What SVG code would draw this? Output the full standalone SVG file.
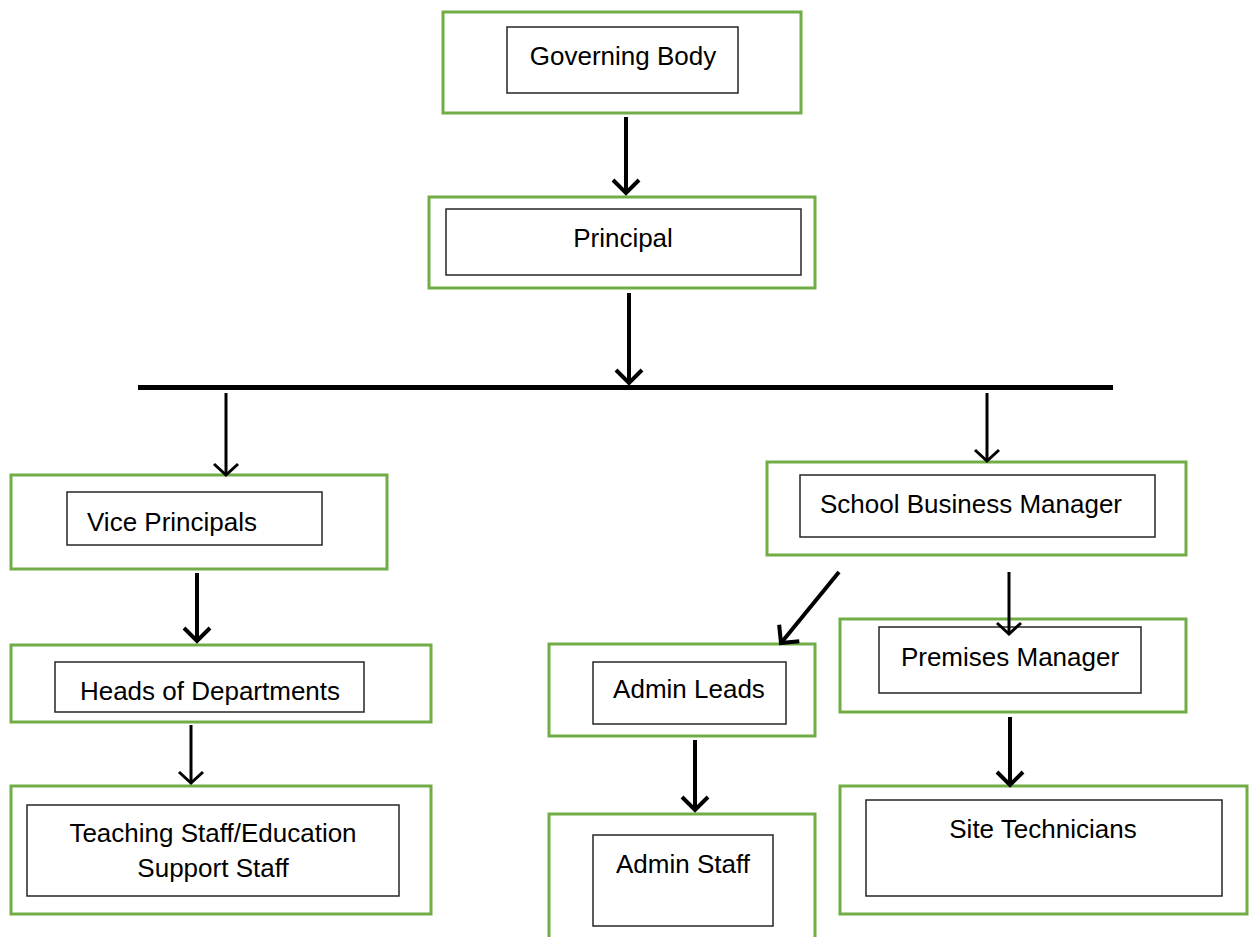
<svg xmlns="http://www.w3.org/2000/svg" width="1249" height="937" viewBox="0 0 1249 937">
<style>
.outer{fill:none;stroke:#70AD47;stroke-width:3}
.inner{fill:#fff;stroke:#262626;stroke-width:1.5}
.t{font-family:"Liberation Sans",Arial,sans-serif;font-size:26px;fill:#000;text-anchor:middle}
.c4{fill:none;stroke:#000;stroke-width:4}
.c3{fill:none;stroke:#000;stroke-width:3}
</style>
<defs>
<marker id="a4" markerUnits="userSpaceOnUse" viewBox="-20 -20 30 40" refX="0" refY="0" markerWidth="30" markerHeight="40" orient="auto" overflow="visible">
<path d="M-13,-13 L0,0 L-13,13" fill="none" stroke="#000" stroke-width="4"/>
</marker>
<marker id="a3" markerUnits="userSpaceOnUse" viewBox="-20 -20 30 40" refX="0" refY="0" markerWidth="30" markerHeight="40" orient="auto" overflow="visible">
<path d="M-11,-12 L0,0 L-11,12" fill="none" stroke="#000" stroke-width="3"/>
</marker>
</defs>
<rect width="1249" height="937" fill="#fff"/>
<g id="governing-body">
<rect class="outer" x="443" y="12" width="358" height="101"/>
<rect class="inner" x="507" y="27" width="231" height="66"/>
<text class="t" x="623" y="65">Governing Body</text>
</g>
<g id="principal">
<rect class="outer" x="429" y="197" width="386" height="91"/>
<rect class="inner" x="446" y="209" width="355" height="66"/>
<text class="t" x="623" y="247">Principal</text>
</g>
<g id="vice-principals">
<rect class="outer" x="11" y="475" width="376" height="94"/>
<rect class="inner" x="67" y="492" width="255" height="53"/>
<text class="t" x="87" y="531" style="text-anchor:start">Vice Principals</text>
</g>
<g id="heads-of-departments">
<rect class="outer" x="11" y="645" width="420" height="77"/>
<rect class="inner" x="55" y="662" width="309" height="50"/>
<text class="t" x="210" y="700">Heads of Departments</text>
</g>
<g id="teaching-staff">
<rect class="outer" x="11" y="786" width="420" height="128"/>
<rect class="inner" x="27" y="805" width="372" height="91"/>
<text class="t" x="213" y="842">Teaching Staff/Education</text>
<text class="t" x="213" y="877">Support Staff</text>
</g>
<g id="school-business-manager">
<rect class="outer" x="767" y="462" width="419" height="93"/>
<rect class="inner" x="800" y="475" width="355" height="62"/>
<text class="t" x="971" y="513">School Business Manager</text>
</g>
<g id="admin-leads">
<rect class="outer" x="549" y="644" width="266" height="92"/>
<rect class="inner" x="593" y="662" width="193" height="62"/>
<text class="t" x="689" y="698">Admin Leads</text>
</g>
<g id="premises-manager">
<rect class="outer" x="840" y="619" width="346" height="93"/>
<rect class="inner" x="879" y="627" width="262" height="66"/>
<text class="t" x="1010" y="666">Premises Manager</text>
</g>
<g id="admin-staff">
<rect class="outer" x="549" y="814" width="266" height="130"/>
<rect class="inner" x="593" y="835" width="180" height="91"/>
<text class="t" x="683" y="873">Admin Staff</text>
</g>
<g id="site-technicians">
<rect class="outer" x="840" y="786" width="407" height="128"/>
<rect class="inner" x="866" y="800" width="356" height="96"/>
<text class="t" x="1043" y="838">Site Technicians</text>
</g>
<g id="connectors">
<line x1="138" y1="387.5" x2="1113" y2="387.5" stroke="#000" stroke-width="5"/>
<line class="c4" x1="626" y1="117" x2="626" y2="193" marker-end="url(#a4)"/>
<line class="c4" x1="629" y1="293" x2="629" y2="383" marker-end="url(#a4)"/>
<line class="c3" x1="226" y1="393" x2="226" y2="475" marker-end="url(#a3)"/>
<line class="c4" x1="197" y1="573" x2="197" y2="641" marker-end="url(#a4)"/>
<line class="c3" x1="191" y1="725" x2="191" y2="783" marker-end="url(#a3)"/>
<line class="c3" x1="987" y1="393" x2="987" y2="461" marker-end="url(#a3)"/>
<line class="c4" x1="839" y1="572" x2="781" y2="643" marker-end="url(#a4)"/>
<line class="c3" x1="1009" y1="572" x2="1009" y2="634" marker-end="url(#a3)"/>
<line class="c4" x1="695" y1="740" x2="695" y2="810" marker-end="url(#a4)"/>
<line class="c4" x1="1010" y1="717" x2="1010" y2="785" marker-end="url(#a4)"/>
</g>
</svg>
